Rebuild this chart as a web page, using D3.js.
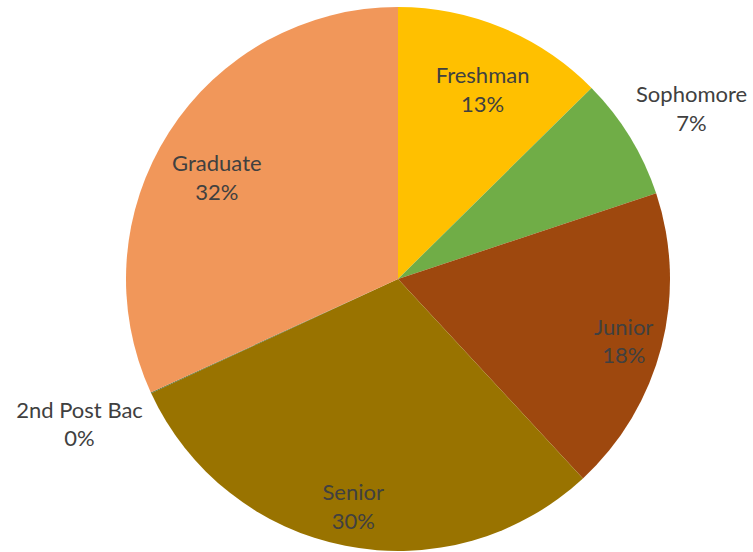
<!DOCTYPE html>
<html><head><meta charset="utf-8">
<script src="https://cdn.jsdelivr.net/npm/d3@7"></script>
<style>body{margin:0;background:#fff}svg{display:block}</style>
</head><body>
<script>
const categories = ["Freshman","Sophomore","Junior","Senior","2nd Post Bac","Graduate"];
const values = [12.6, 7.3, 18.2, 30.0, 0.05, 31.85];
const colors = ["#FFC000","#70AD47","#9E480E","#997300","#43682B","#F1975A"];

const W=753,H=552,cx=398,cy=279,R=272;
const svg=d3.select("body").append("svg").attr("width",W).attr("height",H);
const data=categories.map((c,i)=>({cat:c,val:values[i],col:colors[i]}));
const pie=d3.pie().value(d=>d.val).sort(null);
const arcs=pie(data);
const arc=d3.arc().innerRadius(0).outerRadius(R);
const g=svg.append("g").attr("transform",`translate(${cx},${cy})`);
g.selectAll("path").data(arcs).join("path").attr("d",arc).attr("fill",d=>d.data.col);
const total=d3.sum(values);
const labelR={"Freshman":0.765,"Sophomore":1.25,"Junior":0.86,"Senior":0.85,"2nd Post Bac":1.285,"Graduate":0.765};
const labelDA={"Freshman":1.3,"Sophomore":1.2,"Junior":0.8,"Senior":0,"2nd Post Bac":0.4,"Graduate":-3.2};
const lab=svg.append("g").attr("font-family","Lato, 'Open Sans', sans-serif").attr("font-size",22).attr("fill","#404040").attr("text-anchor","middle");
arcs.forEach(a=>{
  const m=(a.startAngle+a.endAngle)/2 + labelDA[a.data.cat]*Math.PI/180;
  const r=R*labelR[a.data.cat];
  const x=cx+Math.sin(m)*r, y=cy-Math.cos(m)*r;
  const t=lab.append("text").attr("x",x).attr("y",y);
  t.append("tspan").attr("x",x).attr("dy","-0.25em").text(a.data.cat);
  t.append("tspan").attr("x",x).attr("dy","1.3em").text(Math.round(a.data.val/total*100)+"%");
});
</script>
</body></html>
